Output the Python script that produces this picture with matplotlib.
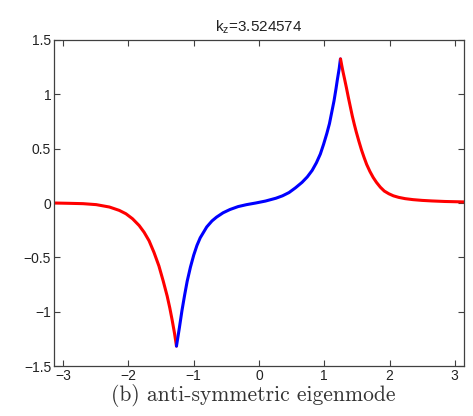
import matplotlib
matplotlib.use("Agg")
import matplotlib.pyplot as plt
import numpy as np

# Eigenmode profile, split into the outer (red) and inner (blue) parts
x_left = [-3.14, -2.898, -2.696, -2.493, -2.291, -2.140, -2.038, -1.937, -1.836,
          -1.760, -1.684, -1.608, -1.533, -1.467, -1.406, -1.366, -1.331, -1.294, -1.264]
y_left = [0.0, -0.003, -0.006, -0.015, -0.037, -0.068, -0.099, -0.145, -0.207,
          -0.269, -0.347, -0.455, -0.579, -0.718, -0.857, -0.966, -1.074, -1.198, -1.316]

x_mid = [-1.264, -1.22, -1.18, -1.14, -1.10, -1.05, -1.00, -0.95, -0.90, -0.80,
         -0.72, -0.65, -0.55, -0.445, -0.32, -0.19, -0.05, 0.10, 0.26, 0.36,
         0.46, 0.56, 0.66, 0.74, 0.815, 0.88, 0.94, 0.99, 1.04, 1.08, 1.12,
         1.15, 1.18, 1.20, 1.23, 1.248]
y_mid = [-1.316, -1.15, -0.99, -0.85, -0.72, -0.59, -0.48, -0.39, -0.32, -0.22,
         -0.165, -0.13, -0.09, -0.06, -0.033, -0.015, 0.0, 0.018, 0.044, 0.066,
         0.096, 0.14, 0.19, 0.24, 0.30, 0.37, 0.45, 0.54, 0.64, 0.73, 0.85,
         0.94, 1.05, 1.13, 1.24, 1.325]

x_right = [1.25, 1.27, 1.29, 1.31, 1.34, 1.37, 1.40, 1.43, 1.46, 1.49, 1.53,
           1.57, 1.61, 1.65, 1.70, 1.75, 1.80, 1.86, 1.92, 1.99, 2.06, 2.14,
           2.24, 2.36, 2.50, 2.65, 2.85, 3.14]
y_right = [1.325, 1.26, 1.20, 1.145, 1.06, 0.97, 0.885, 0.80, 0.725, 0.655, 0.57,
           0.49, 0.42, 0.355, 0.29, 0.235, 0.19, 0.145, 0.11, 0.085, 0.066, 0.052,
           0.04, 0.031, 0.024, 0.019, 0.014, 0.01]

x_ticks = [-3, -2, -1, 0, 1, 2, 3]
y_ticks = [-1.5, -1, -0.5, 0, 0.5, 1, 1.5]
y_ticklabels = ["\u22121.5", "\u22121", "\u22120.5", "0", "0.5", "1", "1.5"]
x_ticklabels = ["\u22123", "\u22122", "\u22121", "0", "1", "2", "3"]

title_text = r"k$_{z}$=3.524574"
caption = "(b) anti-symmetric eigenmode"

plt.rcParams["font.family"] = ["Liberation Sans", "DejaVu Sans"]
plt.rcParams["mathtext.fontset"] = "custom"
plt.rcParams["mathtext.rm"] = "Liberation Sans"
plt.rcParams["mathtext.it"] = "Liberation Sans"

fig = plt.figure(figsize=(4.73, 4.16), dpi=100)
ax = fig.add_axes([0.114, 0.120, 0.867, 0.784])

lw = 2.2
ax.plot(x_left, y_left, color="#ff0000", lw=lw, solid_capstyle="round")
ax.plot(x_mid, y_mid, color="#0000ff", lw=lw, solid_capstyle="round")
ax.plot(x_right, y_right, color="#ff0000", lw=lw, solid_capstyle="round")

ax.set_xlim(-np.pi, np.pi)
ax.set_ylim(-1.5, 1.5)
ax.set_xticks(x_ticks)
ax.set_xticklabels(x_ticklabels)
ax.set_yticks(y_ticks)
ax.set_yticklabels(y_ticklabels)

axis_color = "#404040"
for s in ax.spines.values():
    s.set_color(axis_color)
    s.set_linewidth(0.9)
ax.tick_params(direction="in", top=True, right=True, length=4, width=0.8,
               colors=axis_color, labelcolor="#222222", labelsize=10, pad=2)

ax.set_title(title_text, fontsize=11, color="#222222", pad=6)

fig.text(0.535, 0.049, caption, family="cmr10", fontsize=15.5,
         ha="center", va="center", color="#333333")

fig.savefig("out.png", dpi=100)
